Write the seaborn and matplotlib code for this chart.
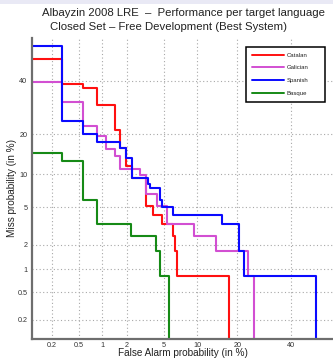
import math
import numpy as np
import pandas as pd
import matplotlib
matplotlib.use("Agg")
import matplotlib.pyplot as plt
from matplotlib.patches import Rectangle
from matplotlib.ticker import FixedLocator, FixedFormatter, NullLocator
import seaborn as sns

# ---- data: DET staircases, false alarm (%) where each horizontal run starts, and its miss rate (%)
languages = ["Catalan", "Galician", "Spanish", "Basque"]
line_colors = ["#ff1010", "#d24fd2", "#0a0aff", "#168a16"]

catalan_fa = [0.05, 0.285, 0.56, 0.86, 1.45, 1.66, 1.96, 2.28, 3.3, 3.9, 4.8, 6.1, 6.4, 6.7, 17.6]
catalan_miss = [49.4, 38.6, 36.8, 30.2, 21.3, 16.0, 11.6, 9.3, 5.1, 4.2, 3.4, 2.5, 1.7, 0.83, 0.01]

galician_fa = [0.05, 0.285, 0.56, 0.86, 1.12, 1.45, 1.66, 2.81, 3.3, 4.2, 5.3, 9.3, 14.1, 23.5, 25.5]
galician_miss = [39.4, 31.1, 22.7, 19.3, 15.8, 13.9, 11.1, 9.9, 6.7, 5.1, 3.4, 2.5, 1.7, 0.83, 0.01]

spanish_fa = [0.05, 0.285, 0.56, 0.86, 1.66, 1.96, 2.28, 3.45, 3.6, 4.5, 4.8, 6.1, 15.5, 20.5, 22.1, 50.8]
spanish_miss = [55.2, 24.4, 20.1, 17.6, 16.0, 13.5, 9.3, 8.3, 7.6, 5.9, 5.05, 4.2, 3.4, 1.7, 0.83, 0.01]

basque_fa = [0.05, 0.285, 0.56, 0.86, 2.25, 4.15, 4.5, 5.6]
basque_miss = [14.7, 12.9, 5.9, 3.4, 2.5, 1.7, 0.83, 0.01]

tick_values = [0.2, 0.5, 1, 2, 5, 10, 20, 40]
tick_labels = ["0.2", "0.5", "1", "2", "5", "10", "20", "40"]

title_line1 = "Albayzin 2008 LRE  \u2013  Performance per target language"
title_line2 = "Closed Set \u2013 Free Development (Best System)"


# ---- normal-deviate (probit) scale
_A = [-3.969683028665376e+01, 2.209460984245205e+02, -2.759285104469687e+02,
      1.383577518672690e+02, -3.066479806614716e+01, 2.506628277459239e+00]
_B = [-5.447609879822406e+01, 1.615858368580409e+02, -1.556989798598866e+02,
      6.680131188771972e+01, -1.328068155288572e+01]
_C = [-7.784894002430293e-03, -3.223964580411365e-01, -2.400758277161838e+00,
      -2.549732539343734e+00, 4.374664141464968e+00, 2.938163982698783e+00]
_D = [7.784695709041462e-03, 3.224671290700398e-01, 2.445134137142996e+00,
      3.754408661907416e+00]


def _ppf(p):
    p = np.asarray(p, dtype=float)
    out = np.empty_like(p)
    plow = 0.02425
    with np.errstate(all="ignore"):
        lo = p < plow
        hi = p > 1 - plow
        mid = ~(lo | hi)
        q = np.sqrt(-2 * np.log(p[lo]))
        out[lo] = (((((_C[0]*q+_C[1])*q+_C[2])*q+_C[3])*q+_C[4])*q+_C[5]) / \
                  ((((_D[0]*q+_D[1])*q+_D[2])*q+_D[3])*q+1)
        q = np.sqrt(-2 * np.log(1 - p[hi]))
        out[hi] = -(((((_C[0]*q+_C[1])*q+_C[2])*q+_C[3])*q+_C[4])*q+_C[5]) / \
                  ((((_D[0]*q+_D[1])*q+_D[2])*q+_D[3])*q+1)
        q = p[mid] - 0.5
        r = q * q
        out[mid] = (((((_A[0]*r+_A[1])*r+_A[2])*r+_A[3])*r+_A[4])*r+_A[5])*q / \
                   (((((_B[0]*r+_B[1])*r+_B[2])*r+_B[3])*r+_B[4])*r+1)
    return out


_erf = np.vectorize(math.erf, otypes=[float])


def pct_to_dev(v):
    p = np.clip(np.asarray(v, dtype=float) / 100.0, 1e-9, 1 - 1e-9)
    return _ppf(p)


def dev_to_pct(z):
    z = np.asarray(z, dtype=float)
    return 100.0 * 0.5 * (1.0 + _erf(z / math.sqrt(2.0)))


# ---- table for seaborn
series = {
    "Catalan": (catalan_fa, catalan_miss),
    "Galician": (galician_fa, galician_miss),
    "Spanish": (spanish_fa, spanish_miss),
    "Basque": (basque_fa, basque_miss),
}
df = pd.concat(
    [pd.DataFrame({"fa": fa, "miss": miss, "language": name})
     for name, (fa, miss) in series.items()],
    ignore_index=True,
)

sns.set_theme(style="white")
plt.rcParams["font.family"] = ["Liberation Sans", "DejaVu Sans"]

W, H = 333, 360
fig = plt.figure(figsize=(W / 100, H / 100), dpi=100)
fig.patch.set_facecolor("white")
fig.patches.append(Rectangle((0, 1 - 3.5 / H), 1, 3.5 / H, transform=fig.transFigure,
                             facecolor="#e9e9f5", edgecolor="none", zorder=0))

ax_left, ax_right = 32.3 / W, 1.0
ax_top, ax_bottom = 37.7 / H, 339.0 / H
ax = fig.add_axes([ax_left, 1 - ax_bottom, ax_right - ax_left, ax_bottom - ax_top])
ax.set_facecolor("white")

sns.lineplot(data=df, x="fa", y="miss", hue="language", hue_order=languages,
             palette=dict(zip(languages, line_colors)), estimator=None, sort=False,
             drawstyle="steps-post", linewidth=1.5, ax=ax)

ax.set_xscale("function", functions=(pct_to_dev, dev_to_pct))
ax.set_yscale("function", functions=(pct_to_dev, dev_to_pct))
ax.set_xlim(0.1, 58.2)
ax.set_ylim(0.1, 58.6)

for axis in (ax.xaxis, ax.yaxis):
    axis.set_major_locator(FixedLocator(tick_values))
    axis.set_major_formatter(FixedFormatter(tick_labels))
    axis.set_minor_locator(NullLocator())

ax.grid(True, which="major", color="#a8a8a8", linestyle=(0, (1, 2.2)), linewidth=0.8)
ax.set_axisbelow(True)
ax.tick_params(axis="both", direction="in", length=3, width=0.8, color="#333333",
               labelsize=5.2, labelcolor="#333333")
ax.tick_params(axis="x", pad=2.5)
ax.tick_params(axis="y", pad=3.5)

for side in ("top", "right"):
    ax.spines[side].set_visible(False)
for side in ("left", "bottom"):
    ax.spines[side].set_color("#6e6e6e")
    ax.spines[side].set_linewidth(1.6)

ax.set_xlabel("False Alarm probability (in %)", fontsize=7.2, color="#222222", va="center")
ax.set_ylabel("Miss probability (in %)", fontsize=7.2, color="#222222", va="center")
ax.xaxis.set_label_coords(0.501, -0.0465)
ax.yaxis.set_label_coords(-0.068, 0.5)

fig.text(184 / W, 1 - 12.5 / H, title_line1, ha="center", va="center",
         fontsize=8.2, color="#222222")
fig.text(168.5 / W, 1 - 27.5 / H, title_line2, ha="center", va="center",
         fontsize=8.2, color="#222222")

handles, labels = ax.get_legend_handles_labels()
leg_x0, leg_top, leg_w, leg_h = 245.7 / W, 1 - 46.7 / H, 79.3 / W, 53.6 / H
leg = ax.legend(handles, labels, loc="upper left",
                bbox_to_anchor=(leg_x0, leg_top - leg_h, leg_w, leg_h),
                bbox_transform=fig.transFigure, mode="expand",
                fontsize=4.3, frameon=True, fancybox=False, framealpha=1,
                edgecolor="black", borderpad=1.0, handlelength=5.4,
                handletextpad=0.5, labelspacing=1.25, borderaxespad=0)
leg.get_frame().set_linewidth(1.1)
for t in leg.get_texts():
    t.set_color("#222222")
for h in leg.get_lines():
    h.set_linewidth(1.4)

fig.savefig("out.png", dpi=100)
